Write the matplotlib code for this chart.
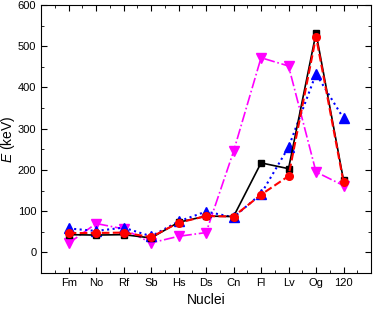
import matplotlib
matplotlib.use('Agg')
import matplotlib.pyplot as plt
from matplotlib.ticker import MultipleLocator

plt.rcParams['font.family'] = ['Liberation Sans', 'DejaVu Sans']
plt.rcParams['mathtext.fontset'] = 'custom'
plt.rcParams['mathtext.it'] = 'Liberation Sans:italic'
plt.rcParams['mathtext.rm'] = 'Liberation Sans'

nuclei = ['Fm', 'No', 'Rf', 'Sb', 'Hs', 'Ds', 'Cn', 'Fl', 'Lv', 'Og', '120']
e_black = [43, 42, 43, 35, 73, 88, 87, 217, 203, 532, 175]
e_red = [47, 47, 48, 37, 72, 88, 87, 140, 185, 523, 170]
e_blue = [58, 52, 60, 39, 75, 99, 85, 142, 255, 433, 325]
e_magenta = [22, 70, 57, 23, 39, 48, 245, 472, 452, 195, 162]

x = list(range(1, len(nuclei) + 1))

fig = plt.figure(figsize=(3.74, 3.09), dpi=100)
ax = fig.add_axes([0.110, 0.1165, 0.882, 0.8675])

ax.plot(x, e_magenta, color='magenta', ls='-.', lw=1.2, marker='v', ms=6.5)
ax.plot(x, e_blue, color='blue', ls=':', lw=1.5, marker='^', ms=6.5)
ax.plot(x, e_black, color='black', ls='-', lw=1.2, marker='s', ms=5)
ax.plot(x, e_red, color='red', ls='--', lw=1.5, marker='o', ms=5.5)

ax.set_xlim(0, 12)
ax.set_ylim(-50, 600)
ax.set_xticks(x)
ax.set_xticklabels(nuclei)
ax.xaxis.set_minor_locator(MultipleLocator(0.5))
ax.yaxis.set_major_locator(MultipleLocator(100))
ax.yaxis.set_minor_locator(MultipleLocator(50))
ax.tick_params(which='both', direction='in', top=True, right=True, labelsize=8)
ax.tick_params(which='major', length=4)
ax.tick_params(which='minor', length=2.5)
ax.set_xlabel('Nuclei', fontsize=10)
ax.set_ylabel('$E$ (keV)', fontsize=10)
ax.yaxis.set_label_coords(-0.072, 0.5)

fig.savefig('out.png', dpi=100)
